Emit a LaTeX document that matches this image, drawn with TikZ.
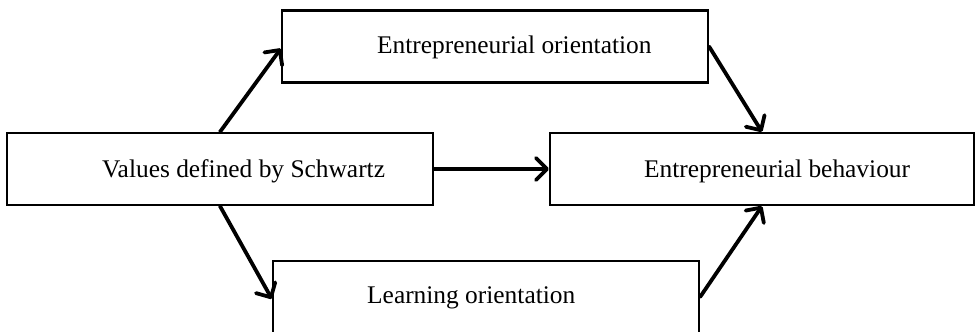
\documentclass[tikz,border=0pt]{standalone}
\usepackage{fontspec}
\setmainfont{Liberation Serif}
\usetikzlibrary{arrows.meta}
\tikzset{
  box/.style={draw=black, line width=2.2pt, minimum width=426pt, minimum height=72pt, inner sep=0pt, fill=none},
  lbl/.style={font=\fontsize{25.4}{30}\selectfont, inner sep=0pt, anchor=base west},
  conn/.style={line width=3.8pt, line cap=round, -{Straight Barb[length=11pt,width=22pt,line cap=round,line join=round]}},
}
\begin{document}
\begin{tikzpicture}[x=1pt,y=-1pt]
\useasboundingbox (0,0) rectangle (975,332);
\fill[white] (0,0) rectangle (975,332);
\node[box] (vals) at (220,169) {};
\node[box] (eo) at (495,46.5) {};
\node[box, minimum width=424pt] (eb) at (762,169) {};
\node[box] (lo) at (486,297) {};
\node[lbl] (tvals) at (102,177) {Values defined by Schwartz};
\node[lbl] (teo) at (377,53) {Entrepreneurial orientation};
\node[lbl] (teb) at (644,177) {Entrepreneurial behaviour};
\node[lbl] (tlo) at (367,303) {Learning orientation};
\draw[conn] (vals.north) -- ([yshift=-2pt]eo.west);
\draw[conn] (vals.south) -- ([yshift=-2pt]lo.west);
\draw[conn] (vals.east) -- (eb.west);
\draw[conn] (eo.east) -- (eb.north);
\draw[conn] (lo.east) -- (eb.south);
\end{tikzpicture}
\end{document}
